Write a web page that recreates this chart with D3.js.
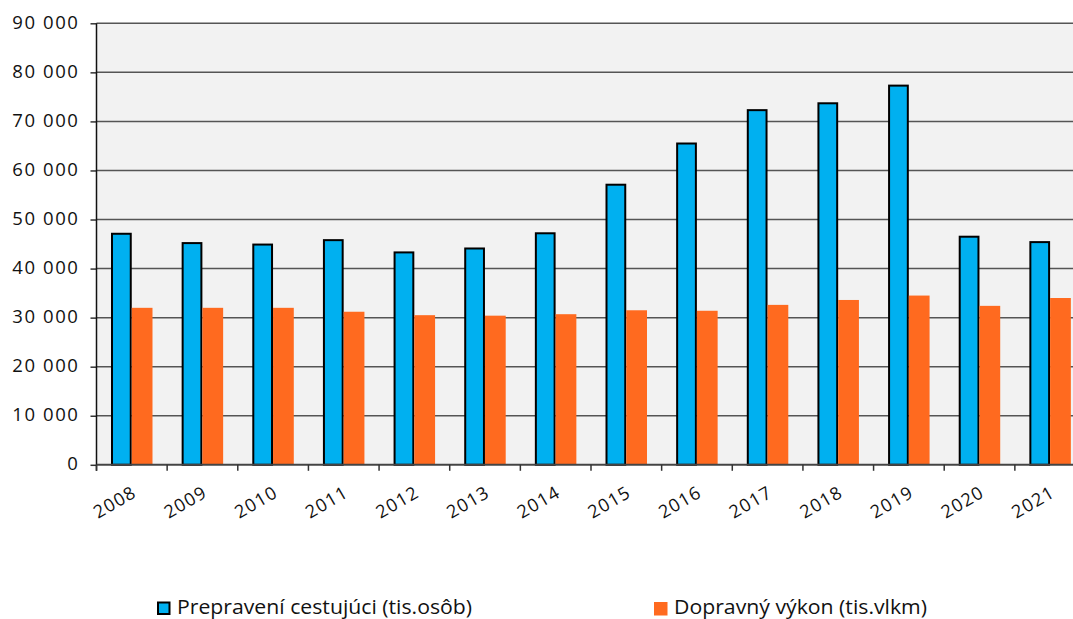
<!DOCTYPE html>
<html><head><meta charset="utf-8">
<script src="https://cdn.jsdelivr.net/npm/d3@7"></script>
<style>body{margin:0;background:#fff}svg{display:block}</style>
</head><body><svg id="c" width="1073" height="619"></svg>
<script>
const years = ["2008","2009","2010","2011","2012","2013","2014","2015","2016","2017","2018","2019","2020","2021"];
const passengers = [47300,45400,45100,46000,43500,44300,47400,57300,65700,72500,73900,77500,46700,45600];
const performance = [32000,32000,32000,31200,30500,30400,30700,31500,31400,32600,33600,34500,32400,34000];
const yTicks = [0,10000,20000,30000,40000,50000,60000,70000,80000,90000];
const seriesNames = ["Prepravení cestujúci (tis.osôb)","Dopravný výkon (tis.vlkm)"];
const colors = ["#00b0f0","#ff6a1f"];

const svg = d3.select("#c");
const L = 96.5, R = 1085.5, T = 23.3, B = 464.8;
const x0 = d3.scaleBand().domain(years).range([L, R]).padding(0);
const x1 = d3.scaleBand().domain([0,1]).range([14.5, 56]);
const y = d3.scaleLinear().domain([0,90000]).range([B, T]);
const fmt = v => d3.format(",")(v).replace(/,/g, " ");

svg.append("rect").attr("x", L).attr("y", T).attr("width", 1073 - L).attr("height", B - T).attr("fill", "#f2f2f2");

// grid
svg.append("g").selectAll("line").data(yTicks.slice(1)).join("line")
  .attr("x1", L).attr("x2", 1073).attr("y1", d => y(d)).attr("y2", d => y(d))
  .attr("stroke", "#555").attr("stroke-width", 1.5);

// bars
const g = svg.append("g").selectAll("g").data(years).join("g")
  .attr("transform", d => `translate(${x0(d)},0)`);
g.append("rect")
  .attr("x", x1(0) + 1).attr("width", x1.bandwidth() - 2)
  .attr("y", (d, i) => y(passengers[i]) + 1)
  .attr("height", (d, i) => B - y(passengers[i]) - 1)
  .attr("fill", colors[0]).attr("stroke", "#000").attr("stroke-width", 2);
g.append("rect")
  .attr("x", x1(1)).attr("width", x1.bandwidth())
  .attr("y", (d, i) => y(performance[i]))
  .attr("height", (d, i) => B - y(performance[i]))
  .attr("fill", colors[1]);

// y axis
const ya = svg.append("g").attr("transform", `translate(${L},0)`)
  .call(d3.axisLeft(y).tickValues(yTicks).tickFormat(fmt).tickSize(6).tickPadding(11));
ya.select(".domain").remove();
ya.selectAll(".tick line").attr("stroke", "#333").attr("stroke-width", 1.5);
ya.selectAll("text").attr("font-family", "'Open Sans', sans-serif").attr("font-size", 18.5)
  .attr("letter-spacing", "1.6px").attr("fill", "#111").attr("dy", "0.28em");
svg.append("line").attr("x1", L).attr("x2", L).attr("y1", T).attr("y2", B + 6)
  .attr("stroke", "#111").attr("stroke-width", 1.5);

// x axis
svg.append("line").attr("x1", L).attr("x2", 1073).attr("y1", B).attr("y2", B)
  .attr("stroke", "#444").attr("stroke-width", 2);
svg.append("g").selectAll("line").data(years).join("line")
  .attr("x1", d => x0(d)).attr("x2", d => x0(d)).attr("y1", B).attr("y2", B + 6)
  .attr("stroke", "#333").attr("stroke-width", 1.5);
svg.append("g").selectAll("text").data(years).join("text")
  .attr("transform", d => `translate(${x0(d) + x0.bandwidth()/2 + 6},496) rotate(-30)`)
  .attr("text-anchor", "end")
  .attr("font-family", "'Open Sans', sans-serif").attr("font-size", 18).attr("letter-spacing", "1.2px")
  .attr("fill", "#111").text(d => d);

// legend
const lg = svg.append("g");
const lx = [157, 654];
seriesNames.forEach((n, i) => {
  lg.append("rect").attr("x", lx[i] + (i === 0 ? 1 : 0)).attr("y", 602 + (i === 0 ? 0.5 : 0))
    .attr("width", i === 0 ? 11.5 : 13.5).attr("height", i === 0 ? 11.5 : 13.5)
    .attr("fill", colors[i]).attr("stroke", i === 0 ? "#000" : "none").attr("stroke-width", 2);
  lg.append("text").attr("x", lx[i] + 20).attr("y", 614)
    .attr("font-family", "'Open Sans', sans-serif").attr("font-size", 19.5).attr("fill", "#111")
    .text(n).attr("textLength", i === 0 ? 295 : 253).attr("lengthAdjust", "spacingAndGlyphs");
});
</script></body></html>
